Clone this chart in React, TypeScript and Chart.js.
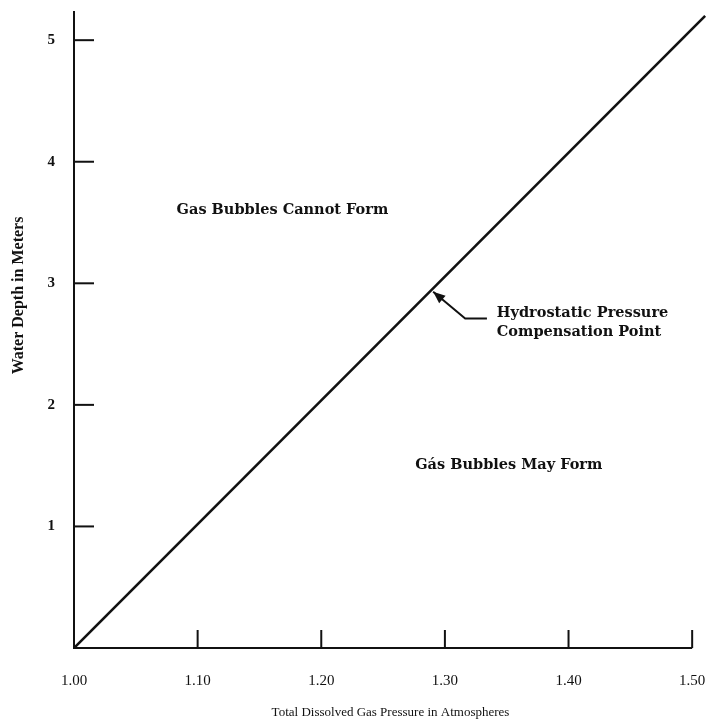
import React, { useEffect, useRef } from "react";
import { Chart, registerables } from "chart.js";

Chart.register(...registerables);

// ---- data ----
const pressureTicks = [1.0, 1.1, 1.2, 1.3, 1.4, 1.5];
const depthTicks = [1, 2, 3, 4, 5];
const linePressure = [1.0, 1.5105];
const lineDepth = [0, 5.2];
const regionLabels = ["Gas Bubbles Cannot Form", "Gás Bubbles May Form"];
const regionLabelPressure = [1.083, 1.276];
const regionLabelDepth = [3.6, 1.5];
const pointLabelLines = ["Hydrostatic Pressure", "Compensation Point"];
const pointLabelPressure = [1.342, 1.342];
const pointLabelDepth = [2.757, 2.6];
// arrow: end of leader, elbow, tip (on the line)
const arrowPressure = [1.334, 1.3164, 1.2905];
const arrowDepth = [2.71, 2.71, 2.93];
const yTitleCenterDepth = 2.9;

const xTitle = "Total Dissolved Gas Pressure in Atmospheres";
const yTitle = "Water Depth in Meters";

const INK = "#111";

const axesPlugin = {
  id: "axesAndNotes",
  afterDraw(chart: any) {
    const { ctx, scales } = chart;
    const xs = scales.x;
    const ys = scales.y;
    const x0 = xs.getPixelForValue(pressureTicks[0]);
    const x1 = xs.getPixelForValue(pressureTicks[pressureTicks.length - 1]);
    const y0 = ys.getPixelForValue(0);
    const yTop = ys.top;
    ctx.save();
    ctx.strokeStyle = INK;
    ctx.lineWidth = 2;
    ctx.lineCap = "butt";
    // axes
    ctx.beginPath();
    ctx.moveTo(x0, yTop);
    ctx.lineTo(x0, y0);
    ctx.lineTo(x1, y0);
    ctx.stroke();
    // x ticks (inward, upward)
    pressureTicks.slice(1).forEach((v) => {
      const px = xs.getPixelForValue(v);
      ctx.beginPath();
      ctx.moveTo(px, y0);
      ctx.lineTo(px, y0 - 18);
      ctx.stroke();
    });
    // y ticks (inward, rightward)
    depthTicks.forEach((v) => {
      const py = ys.getPixelForValue(v);
      ctx.beginPath();
      ctx.moveTo(x0, py);
      ctx.lineTo(x0 + 20, py);
      ctx.stroke();
    });

    ctx.fillStyle = INK;
    ctx.textBaseline = "middle";

    // y title (rotated)
    ctx.save();
    ctx.font = "bold 16px 'Liberation Serif'";
    ctx.textAlign = "center";
    ctx.translate(19, ys.getPixelForValue(yTitleCenterDepth));
    ctx.rotate(-Math.PI / 2);
    ctx.fillText(yTitle, 0, 0);
    ctx.restore();

    // region labels
    ctx.textAlign = "left";
    ctx.font = "bold 14.5px 'DejaVu Serif'";
    regionLabels.forEach((t, i) => {
      ctx.fillText(
        t,
        xs.getPixelForValue(regionLabelPressure[i]),
        ys.getPixelForValue(regionLabelDepth[i])
      );
    });

    // compensation point label
    ctx.font = "bold 14.5px 'DejaVu Serif'";
    pointLabelLines.forEach((t, i) => {
      ctx.fillText(
        t,
        xs.getPixelForValue(pointLabelPressure[i]),
        ys.getPixelForValue(pointLabelDepth[i])
      );
    });

    // arrow
    const pts = arrowPressure.map((p, i) => [
      xs.getPixelForValue(p),
      ys.getPixelForValue(arrowDepth[i]),
    ]);
    ctx.lineWidth = 2;
    ctx.beginPath();
    ctx.moveTo(pts[0][0], pts[0][1]);
    ctx.lineTo(pts[1][0], pts[1][1]);
    ctx.lineTo(pts[2][0], pts[2][1]);
    ctx.stroke();
    const [tx, ty] = pts[2];
    const [ex, ey] = pts[1];
    const ang = Math.atan2(ty - ey, tx - ex);
    const len = 12;
    const wid = 5;
    ctx.beginPath();
    ctx.moveTo(tx, ty);
    ctx.lineTo(
      tx - len * Math.cos(ang) + wid * Math.sin(ang),
      ty - len * Math.sin(ang) - wid * Math.cos(ang)
    );
    ctx.lineTo(
      tx - len * Math.cos(ang) - wid * Math.sin(ang),
      ty - len * Math.sin(ang) + wid * Math.cos(ang)
    );
    ctx.closePath();
    ctx.fill();
    ctx.restore();
  },
};

export default function App() {
  const ref = useRef<HTMLCanvasElement | null>(null);
  useEffect(() => {
    if (!ref.current) return;
    const chart = new Chart(ref.current, {
      type: "scatter",
      data: {
        datasets: [
          {
            data: linePressure.map((p, i) => ({ x: p, y: lineDepth[i] })),
            showLine: true,
            borderColor: INK,
            borderWidth: 2.6,
            pointRadius: 0,
            fill: false,
          },
        ],
      },
      options: {
        animation: false,
        responsive: true,
        maintainAspectRatio: false,
        layout: { padding: { top: 11, right: 3, left: 0, bottom: 0 } },
        plugins: { legend: { display: false }, tooltip: { enabled: false } },
        scales: {
          x: {
            type: "linear",
            min: 1.0,
            max: 1.512,
            border: { display: false },
            grid: { display: false, drawTicks: false },
            afterBuildTicks: (s: any) => {
              s.ticks = pressureTicks.map((v) => ({ value: v }));
            },
            afterFit: (s: any) => {
              s.height = 75;
              s.paddingLeft = 0;
              s.paddingRight = 0;
              s.paddingTop = 0;
              s.paddingBottom = 0;
            },
            ticks: {
              padding: 24,
              autoSkip: false,
              maxRotation: 0,
              color: INK,
              font: { family: "'Liberation Serif'", size: 15 },
              callback: (v: any) => Number(v).toFixed(2),
            },
            title: {
              display: true,
              text: xTitle,
              color: INK,
              font: { family: "'Liberation Serif'", size: 13 },
              padding: { top: 0, bottom: 3 },
            },
          },
          y: {
            type: "linear",
            min: 0,
            max: 5.24,
            border: { display: false },
            grid: { display: false, drawTicks: false },
            afterBuildTicks: (s: any) => {
              s.ticks = depthTicks.map((v) => ({ value: v }));
            },
            afterFit: (s: any) => {
              s.width = 74;
              s.paddingLeft = 0;
              s.paddingRight = 0;
              s.paddingTop = 0;
              s.paddingBottom = 0;
            },
            ticks: {
              padding: 19,
              autoSkip: false,
              color: INK,
              font: { family: "'Liberation Serif'", size: 15, weight: "bold" },
              callback: (v: any) => String(v),
            },
            title: { display: false },
          },
        },
      },
      plugins: [axesPlugin],
    });
    return () => chart.destroy();
  }, []);
  return (
    <div
      style={{
        position: "absolute",
        left: 0,
        top: 0,
        width: 710,
        height: 723,
        background: "#fff",
      }}
    >
      <canvas ref={ref} />
    </div>
  );
}
